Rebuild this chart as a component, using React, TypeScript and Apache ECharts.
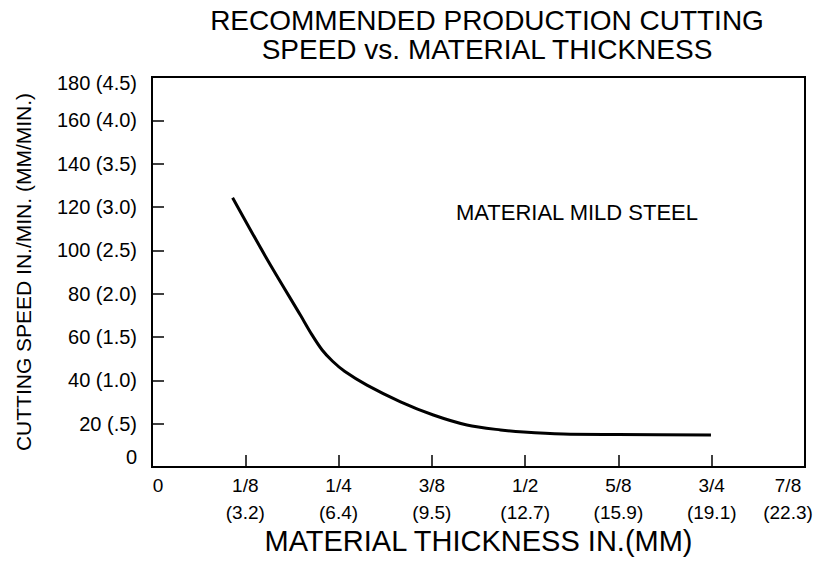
import React, { useEffect, useRef } from "react";
import * as echarts from "echarts";

const titleText = "RECOMMENDED PRODUCTION CUTTING\nSPEED vs. MATERIAL THICKNESS";
const xAxisName = "MATERIAL THICKNESS IN.(MM)";
const yAxisName = "CUTTING SPEED IN./MIN. (MM/MIN.)";
const noteText = "MATERIAL MILD STEEL";

const xFractionLabels = ["0", "1/8", "1/4", "3/8", "1/2", "5/8", "3/4", "7/8"];
const xMmLabels = ["", "(3.2)", "(6.4)", "(9.5)", "(12.7)", "(15.9)", "(19.1)", "(22.3)"];
const yTickLabels = [
  "0",
  "20 (.5)",
  "40 (1.0)",
  "60 (1.5)",
  "80 (2.0)",
  "100 (2.5)",
  "120 (3.0)",
  "140 (3.5)",
  "160 (4.0)",
  "180 (4.5)",
];

// thickness in inches, speed in in./min.
const thicknessIn = [0.108, 0.154, 0.199, 0.214, 0.228, 0.242, 0.258, 0.288, 0.333, 0.377, 0.422, 0.467, 0.498, 0.551, 0.624, 0.749];
const speedInMin = [124.3, 96.0, 70.0, 61.2, 54.0, 48.8, 44.2, 37.8, 30.1, 24.0, 19.4, 17.1, 16.1, 15.2, 15.0, 14.8];

const FONT = "'Liberation Sans', Arial, Helvetica, sans-serif";

export default function App() {
  const ref = useRef<HTMLDivElement>(null);

  useEffect(() => {
    if (!ref.current) return;
    const chart = echarts.init(ref.current, null, { renderer: "svg" });
    const seriesData = thicknessIn.map((x, i) => [x, speedInMin[i]]);
    const xTok = { fontSize: 19, lineHeight: 27, fontFamily: FONT, color: "#000" };
    const yTok = { fontSize: 20, fontFamily: FONT, color: "#000" };

    chart.setOption({
      animation: false,
      backgroundColor: "#fff",
      title: {
        text: titleText,
        left: 482,
        top: 1,
        textAlign: "center",
        textStyle: {
          fontSize: 28,
          lineHeight: 29,
          fontWeight: "normal",
          color: "#000",
          fontFamily: FONT,
        },
      },
      grid: {
        left: 152,
        right: 9,
        top: 77,
        bottom: 102,
        show: true,
        borderColor: "#000",
        borderWidth: 2,
        containLabel: false,
        outerBoundsMode: "none",
      },
      xAxis: {
        type: "value",
        min: 0,
        max: 0.875,
        interval: 0.125,
        name: xAxisName,
        nameLocation: "middle",
        nameGap: 49,
        nameTextStyle: { fontSize: 29, fontFamily: FONT, color: "#000" },
        axisLine: { show: true, onZero: false, lineStyle: { color: "#000", width: 2 } },
        axisTick: { show: true, inside: true, length: 12, lineStyle: { color: "#000", width: 1.5 } },
        splitLine: { show: false },
        axisLabel: {
          margin: 5,
          showMinLabel: true,
          showMaxLabel: true,
          hideOverlap: false,
          formatter: (v: number) => {
            const i = Math.round(v / 0.125);
            if (i === 0) return "{z|" + xFractionLabels[0] + "}";
            if (i === xFractionLabels.length - 1)
              return "{e|" + xFractionLabels[i] + "}\n{e|" + xMmLabels[i] + "}";
            return "{a|" + xFractionLabels[i] + "}\n{a|" + xMmLabels[i] + "}";
          },
          rich: {
            a: { ...xTok },
            z: { ...xTok, padding: [0, 0, 0, 12] },
            e: { ...xTok, padding: [0, 34, 0, 0] },
          },
        },
      },
      yAxis: {
        type: "value",
        min: 0,
        max: 180,
        interval: 20,
        name: yAxisName,
        nameLocation: "middle",
        nameGap: 118,
        nameRotate: 90,
        nameTextStyle: { fontSize: 21, fontFamily: FONT, color: "#000" },
        axisLine: { show: true, onZero: false, lineStyle: { color: "#000", width: 2 } },
        axisTick: { show: true, inside: true, length: 12, lineStyle: { color: "#000", width: 1.5 } },
        splitLine: { show: false },
        axisLabel: {
          margin: 15,
          showMinLabel: true,
          showMaxLabel: true,
          hideOverlap: false,
          formatter: (v: number) => {
            const i = Math.round(v / 20);
            if (i === 0) return "{b|" + yTickLabels[0] + "}";
            if (i === yTickLabels.length - 1) return "{t|" + yTickLabels[i] + "}";
            return "{n|" + yTickLabels[i] + "}";
          },
          rich: {
            n: { ...yTok },
            b: { ...yTok, padding: [0, 0, 20, 0] },
            t: { ...yTok, padding: [12, 0, 0, 0] },
          },
        },
      },
      graphic: [
        {
          type: "text",
          x: 577,
          y: 212,
          style: {
            text: noteText,
            fontSize: 22,
            fontFamily: FONT,
            fill: "#000",
            align: "center",
            verticalAlign: "middle",
          },
        },
      ],
      series: [
        {
          type: "line",
          data: seriesData,
          smooth: 0.3,
          showSymbol: false,
          symbol: "none",
          lineStyle: { color: "#000", width: 3 },
        },
      ],
    });

    return () => chart.dispose();
  }, []);

  return (
    <div
      ref={ref}
      style={{ position: "fixed", left: 0, top: 0, width: 814, height: 569, background: "#fff" }}
    />
  );
}
